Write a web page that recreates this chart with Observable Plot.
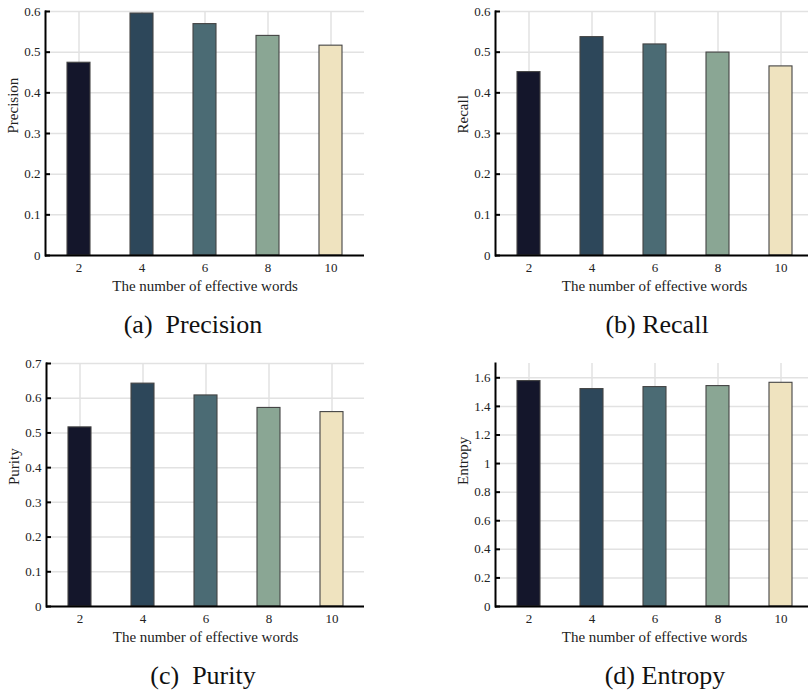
<!DOCTYPE html>
<html>
<head>
<meta charset="utf-8">
<script src="https://cdn.jsdelivr.net/npm/d3@7"></script>
<script src="https://cdn.jsdelivr.net/npm/@observablehq/plot@0.6"></script>
<style>
  html, body { margin: 0; padding: 0; background: #fff; }
  #wrap { position: relative; width: 808px; height: 698px; overflow: hidden; background: #fff; }
  .panel { position: absolute; }
  .cap { position: absolute; font-family: "Liberation Serif", "Times New Roman", serif; font-size: 26px; line-height: 26px; color: #111; text-align: center; white-space: pre; transform: translateX(-50%); }
</style>
</head>
<body>
<div id="wrap"></div>
<script>
const words = [2, 4, 6, 8, 10];
const barColors = ["#14162b", "#2d475a", "#4b6b74", "#8aa694", "#efe3bf"];
const precision = [0.474, 0.595, 0.569, 0.540, 0.516];
const recall = [0.451, 0.537, 0.519, 0.499, 0.465];
const purity = [0.516, 0.642, 0.608, 0.572, 0.560];
const entropy = [1.577, 1.521, 1.535, 1.542, 1.565];
const ticks06 = [0, 0.1, 0.2, 0.3, 0.4, 0.5, 0.6];
const ticks07 = [0, 0.1, 0.2, 0.3, 0.4, 0.5, 0.6, 0.7];
const ticks17 = [0, 0.2, 0.4, 0.6, 0.8, 1, 1.2, 1.4, 1.6];
const xLabel = "The number of effective words";

const panels = [
  {values: precision, label: "Precision", ticks: ticks06, domain: [0, 0.6], left: 0, top: 0, width: 404, mL: 45, mR: 40, mT: 11, h: 300, cap: "(a)  Precision", capX: 193, capTop: 312},
  {values: recall, label: "Recall", ticks: ticks06, domain: [0, 0.6], left: 404, top: 0, width: 409, mL: 91, mR: 0, mT: 11, h: 300, cap: "(b) Recall", capX: 657, capTop: 312},
  {values: purity, label: "Purity", ticks: ticks07, domain: [0, 0.7], left: 0, top: 340, width: 404, mL: 46, mR: 40, mT: 23, h: 311, cap: "(c)  Purity", capX: 203, capTop: 663},
  {values: entropy, label: "Entropy", ticks: ticks17, domain: [0, 1.7], left: 404, top: 340, width: 409, mL: 91, mR: 0, mT: 23, h: 311, cap: "(d) Entropy", capX: 665, capTop: 663}
];

const wrap = document.getElementById("wrap");
const fmt = d => String(+d.toFixed(2));

for (const p of panels) {
  const data = words.map((k, i) => ({k, v: p.values[i]}));
  const plotW = p.width - p.mL - p.mR;
  const chart = Plot.plot({
    width: p.width,
    height: p.h,
    marginLeft: p.mL,
    marginRight: p.mR,
    marginTop: p.mT,
    marginBottom: 45,
    style: {fontFamily: "'Liberation Serif', 'Times New Roman', serif", fontSize: "13px", color: "#222", background: "transparent", overflow: "visible"},
    x: {type: "band", domain: words, paddingInner: 0.635, paddingOuter: 0.3175, axis: null},
    y: {domain: p.domain, axis: null},
    color: {type: "ordinal", domain: words, range: barColors},
    marks: [
      Plot.gridX(words, {stroke: "#e2e2e2", strokeOpacity: 1, strokeWidth: 1.5}),
      Plot.gridY(p.ticks, {stroke: "#e2e2e2", strokeOpacity: 1, strokeWidth: 1.5}),
      Plot.barY(data, {x: "k", y: "v", fill: "k", stroke: "#444", strokeWidth: 1.1}),
      Plot.axisX(words, {tickSize: 0, tickPadding: 7, label: null, fontSize: 13, fill: "#222"}),
      Plot.axisY(p.ticks, {tickSize: 0, tickPadding: 5, label: null, tickFormat: fmt, fontSize: 13, fill: "#222"}),
      Plot.tickY(p.ticks, {y: d => d, insetRight: plotW - 5, stroke: "#000", strokeWidth: 2}),
      Plot.ruleY([0], {stroke: "#000", strokeWidth: 2}),
      Plot.frame({anchor: "left", stroke: "#000", strokeWidth: 2}),
      Plot.text([xLabel], {text: d => d, frameAnchor: "bottom", dy: 35, fontSize: 15, fill: "#222"}),
      Plot.text([p.label], {text: d => d, frameAnchor: "left", dx: -32, rotate: -90, fontSize: 15, fill: "#222"})
    ]
  });
  chart.classList.add("panel");
  chart.style.left = p.left + "px";
  chart.style.top = p.top + "px";
  wrap.appendChild(chart);

  const cap = document.createElement("div");
  cap.className = "cap";
  cap.textContent = p.cap;
  cap.style.left = p.capX + "px";
  cap.style.top = p.capTop + "px";
  wrap.appendChild(cap);
}
</script>
</body>
</html>
